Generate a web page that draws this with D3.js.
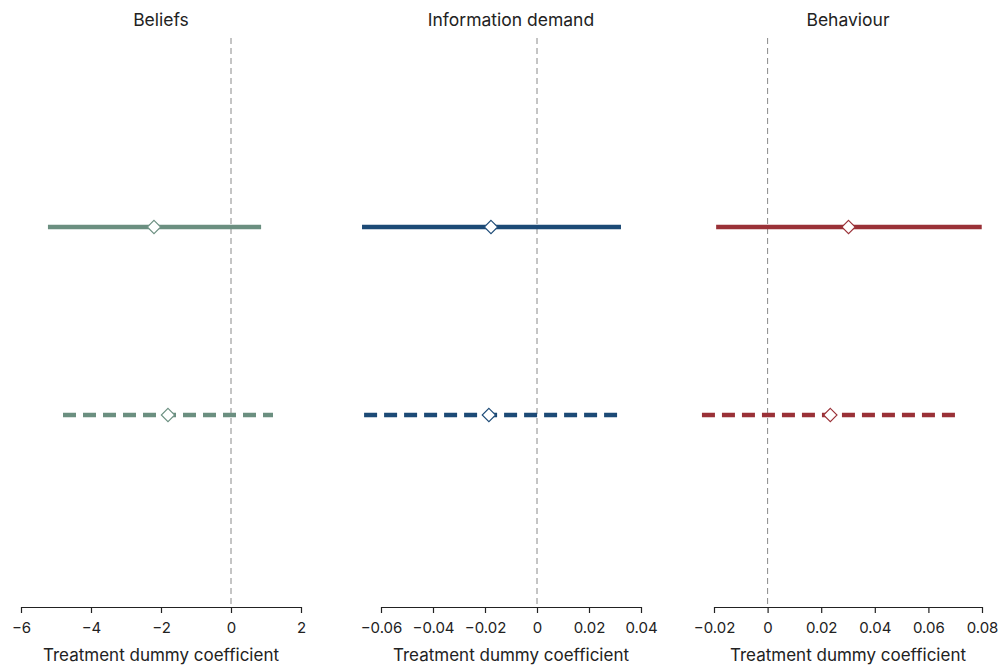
<!DOCTYPE html>
<html>
<head>
<meta charset="utf-8">
<script src="https://cdn.jsdelivr.net/npm/d3@7"></script>
<style>
  body { margin: 0; background: #fff; }
  svg text { font-family: Inter, "Noto Sans", sans-serif; fill: #222; }
</style>
</head>
<body>
<div class="chart"></div>
<script>
var svgWidth = 999;
var svgHeight = 665;

// panel data
var panelTitles = ["Beliefs", "Information demand", "Behaviour"];
var panelColors = ["#6b8f80", "#1c4a76", "#9a3137"];
var panelDomains = [[-6, 2], [-0.06, 0.04], [-0.02, 0.08]];
var panelTicks = [
  [-6, -4, -2, 0, 2],
  [-0.06, -0.04, -0.02, 0, 0.02, 0.04],
  [-0.02, 0, 0.02, 0.04, 0.06, 0.08]
];
// solid row (row 1) and dashed row (row 2): [low, estimate, high]
var solidRow = [[-5.23, -2.2, 0.86], [-0.0673, -0.0177, 0.0323], [-0.0192, 0.0302, 0.0799]];
var dashedRow = [[-4.8, -1.8, 1.2], [-0.0665, -0.0185, 0.0308], [-0.0245, 0.0234, 0.072]];
var rowNames = ["solid", "dashed"];

var panelRanges = [[21, 301], [381, 641], [714, 982]];
var axisY = 607;

var svg = d3.select(".chart")
  .append("svg")
  .attr("width", svgWidth)
  .attr("height", svgHeight);

var y = d3.scalePoint()
  .domain(rowNames)
  .range([227, 415]);

var fmt2 = d3.format(".2f");

panelTitles.forEach(function(title, i) {
  var x = d3.scaleLinear()
    .domain(panelDomains[i])
    .range(panelRanges[i]);
  var color = panelColors[i];
  var g = svg.append("g");

  // title
  g.append("text")
    .attr("x", (panelRanges[i][0] + panelRanges[i][1]) / 2)
    .attr("y", 26)
    .attr("text-anchor", "middle")
    .style("font-size", "17.5px")
    .text(title);

  // zero reference line
  g.append("line")
    .attr("x1", x(0)).attr("x2", x(0))
    .attr("y1", 38).attr("y2", axisY)
    .attr("stroke", "#8a8a8a")
    .attr("stroke-width", 1)
    .attr("stroke-dasharray", "6,4");

  // axis
  var axis = d3.axisBottom(x)
    .tickValues(panelTicks[i])
    .tickSize(6)
    .tickSizeOuter(0)
    .tickFormat(function(d) {
      if (d === 0) return "0";
      return i === 0 ? d3.format("d")(d) : fmt2(d);
    });
  var ax = g.append("g")
    .attr("transform", "translate(0," + axisY + ")")
    .call(axis);
  ax.select(".domain").attr("stroke", "#222").attr("stroke-width", 1.2);
  ax.selectAll(".tick line").attr("stroke", "#222").attr("stroke-width", 1.2);
  ax.selectAll(".tick text")
    .attr("y", 15)
    .style("font-size", "15px")
    .style("font-family", "Inter, 'Noto Sans', sans-serif")
    .attr("fill", "#222");

  g.append("text")
    .attr("x", (panelRanges[i][0] + panelRanges[i][1]) / 2)
    .attr("y", 661)
    .attr("text-anchor", "middle")
    .style("font-size", "17px")
    .text("Treatment dummy coefficient");

  var rows = [
    {name: "solid", v: solidRow[i], dash: null},
    {name: "dashed", v: dashedRow[i], dash: "13,7"}
  ];

  rows.forEach(function(r) {
    g.append("line")
      .attr("x1", x(r.v[0])).attr("x2", x(r.v[2]))
      .attr("y1", y(r.name)).attr("y2", y(r.name))
      .attr("stroke", color)
      .attr("stroke-width", 4.5)
      .attr("stroke-dasharray", r.dash);

    g.append("path")
      .attr("d", d3.symbol().type(d3.symbolDiamond2).size(115)())
      .attr("transform", "translate(" + x(r.v[1]) + "," + y(r.name) + ")")
      .attr("fill", "#fff")
      .attr("stroke", color)
      .attr("stroke-width", 1.1);
  });
});
</script>
</body>
</html>
